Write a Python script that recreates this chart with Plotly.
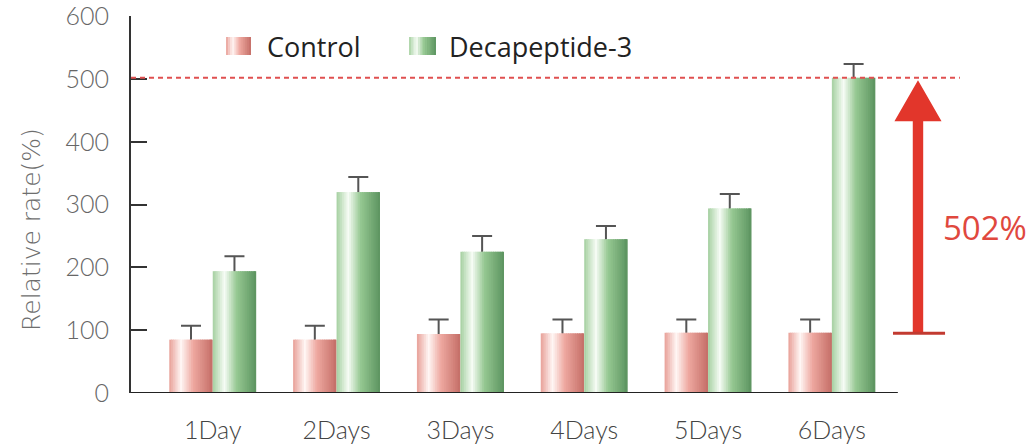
import numpy as np
import plotly.graph_objects as go

# ---- data ----
categories = ["1Day", "2Days", "3Days", "4Days", "5Days", "6Days"]
control = [85, 85, 94, 95, 96, 96]
control_err = [22, 22, 23, 22, 21, 21]
decapeptide = [194, 320, 225, 245, 294, 502]
decapeptide_err = [24, 24, 25, 21, 23, 22]
series_names = ["Control", "Decapeptide-3"]
y_ticks = [0, 100, 200, 300, 400, 500, 600]
y_title = "Relative rate(%)"
arrow_base = 95

# ---- style ----
FONT = "Open Sans, Liberation Sans, sans-serif"
LIGHT = "Lato, Open Sans, sans-serif"
red_stops = [(0.0, (232, 160, 152)), (0.27, (255, 246, 244)), (0.55, (238, 168, 160)), (1.0, (196, 110, 103))]
green_stops = [(0.0, (165, 208, 160)), (0.27, (246, 252, 245)), (0.55, (150, 200, 146)), (1.0, (92, 148, 96))]


def grad(stops, t):
    ts = [s[0] for s in stops]
    cols = np.array([s[1] for s in stops], dtype=float)
    c = [np.interp(t, ts, cols[:, k]) for k in range(3)]
    return "rgb(%d,%d,%d)" % tuple(int(round(v)) for v in c)


BAR_W = 0.351
N = 24
CAP_HIDE = 4  # error bar starts slightly inside the bar so its lower cap is hidden
fig = go.Figure()

groups = [
    (control, control_err, red_stops, -BAR_W),
    (decapeptide, decapeptide_err, green_stops, 0.0),
]
for vals, errs, stops, base_off in groups:
    fig.add_trace(go.Bar(
        x=categories, y=[v - CAP_HIDE for v in vals], offset=base_off, width=BAR_W,
        marker=dict(color="rgba(0,0,0,0)", line=dict(width=0)),
        error_y=dict(type="data", array=[e + CAP_HIDE for e in errs],
                     arrayminus=[0] * len(errs), symmetric=False,
                     color="#555555", thickness=2, width=10),
        showlegend=False, hoverinfo="skip",
    ))
for vals, errs, stops, base_off in groups:
    w = BAR_W / N
    for s in range(N):
        t = (s + 0.5) / N
        fig.add_trace(go.Bar(
            x=categories, y=vals,
            offset=base_off + s * w,
            width=w * (1.6 if s < N - 1 else 1.0),
            marker=dict(color=grad(stops, t), line=dict(width=0)),
            showlegend=False, hoverinfo="skip",
        ))

shapes = []
shapes.append(dict(type="line", xref="paper", yref="y", x0=0, x1=0.853, y0=0, y1=0,
                   line=dict(color="#222222", width=2)))
shapes.append(dict(type="line", xref="paper", yref="y", x0=0, x1=0.922,
                   y0=decapeptide[-1], y1=decapeptide[-1],
                   line=dict(color="#e05050", width=2, dash="5px,4px")))
xc = 0.8754
sw = 0.0058
hw = 0.0262
tip = 498
head_base = 433
path = (f"M {xc-sw},{arrow_base} L {xc-sw},{head_base} L {xc-hw},{head_base} L {xc},{tip} "
        f"L {xc+hw},{head_base} L {xc+sw},{head_base} L {xc+sw},{arrow_base} Z")
shapes.append(dict(type="path", xref="paper", yref="y", path=path,
                   fillcolor="#e2362b", line=dict(width=0)))
shapes.append(dict(type="line", xref="paper", yref="y", x0=0.8476, x1=0.9055,
                   y0=arrow_base, y1=arrow_base, line=dict(color="#c23a30", width=3)))


def px_x(px):
    return (px - 131) / 899.0


def px_y(py):
    return (393 - py) / 377.0


legend_items = [(series_names[0], red_stops, 226, 251, 265), (series_names[1], green_stops, 409, 436, 447)]
annotations = []
for name, stops, x0p, x1p, tx in legend_items:
    M = 12
    for s in range(M):
        a = x0p + (x1p - x0p) * s / M
        b = x0p + (x1p - x0p) * (s + 1) / M + 0.6
        shapes.append(dict(type="rect", xref="paper", yref="paper",
                           x0=px_x(a), x1=px_x(min(b, x1p)), y0=px_y(55), y1=px_y(37),
                           fillcolor=grad(stops, (s + 0.5) / M), line=dict(width=0), layer="above"))
    annotations.append(dict(text=name, xref="paper", yref="paper", x=px_x(tx), y=px_y(46),
                            xanchor="left", yanchor="middle", showarrow=False,
                            font=dict(family=FONT, size=27, color="#222222")))

annotations.append(dict(text=f"{decapeptide[-1]}%", xref="paper", yref="y", x=px_x(985), y=264,
                        xanchor="center", yanchor="middle", showarrow=False,
                        font=dict(family=FONT, size=33, color="#e0483e")))
annotations.append(dict(text=y_title, xref="paper", yref="paper", x=px_x(31), y=px_y(230),
                        xanchor="center", yanchor="middle", showarrow=False, textangle=-90,
                        font=dict(family="DejaVu Sans, Lato, sans-serif", size=25,
                                  color="#6e6e6e", weight=200)))

fig.update_layout(
    width=1034, height=446,
    margin=dict(l=131, r=4, t=16, b=53, autoexpand=False),
    plot_bgcolor="white", paper_bgcolor="white",
    barmode="overlay",
    showlegend=False,
    hovermode=False,
    shapes=shapes,
    annotations=annotations,
    xaxis=dict(type="category", categoryorder="array", categoryarray=categories,
               range=[-0.66, 6.6], showline=False, showgrid=False, zeroline=False,
               ticks="", ticklabelstandoff=20,
               tickfont=dict(family=LIGHT, size=25, color="#444444", weight=300)),
    yaxis=dict(range=[0, 600.5], tickvals=y_ticks, showgrid=False, zeroline=False,
               showline=True, linecolor="#333333", linewidth=2,
               ticks="inside", ticklen=16, tickwidth=2, tickcolor="#333333",
               ticklabelstandoff=15, ticklabeloverflow="allow",
               tickfont=dict(family=LIGHT, size=25, color="#666666", weight=300)),
)

fig.write_html("out.html", config={"displayModeBar": False},
               post_script="document.body.style.margin='0px';")
